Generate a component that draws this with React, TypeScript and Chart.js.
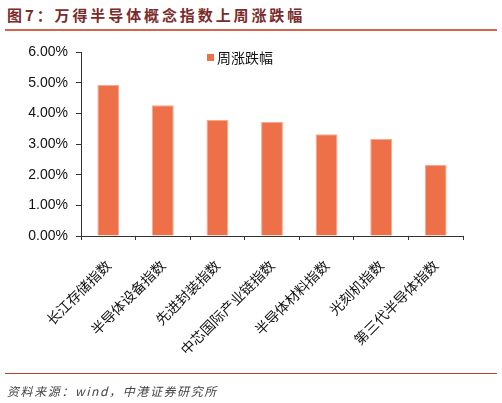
import React, { useEffect, useRef } from "react";
import { Chart, registerables } from "chart.js";

Chart.register(...registerables);

const categories = ["长江存储指数", "半导体设备指数", "先进封装指数", "中芯国际产业链指数", "半导体材料指数", "光刻机指数", "第三代半导体指数"];
const weeklyChange = [4.92, 4.26, 3.78, 3.72, 3.32, 3.16, 2.32];
const seriesName = "周涨跌幅";
const yTicks = [0, 1, 2, 3, 4, 5, 6];
const titleText = "图7：万得半导体概念指数上周涨跌幅";
const sourceText = "资料来源：wind，中港证券研究所";

const BAR = "#ED7049";

export default function App() {
  const ref = useRef<HTMLCanvasElement | null>(null);
  useEffect(() => {
    if (!ref.current) return;
    const chart = new Chart(ref.current, {
      type: "bar",
      data: {
        labels: categories,
        datasets: [
          {
            label: seriesName,
            data: weeklyChange,
            backgroundColor: BAR,
            borderColor: "#F6A98F",
            borderWidth: 1,
            barPercentage: 0.4,
            categoryPercentage: 1,
          },
        ],
      },
      options: {
        animation: false,
        responsive: false,
        maintainAspectRatio: false,
        layout: { padding: { left: 21, right: 39, top: 52, bottom: 0 } },
        plugins: { legend: { display: false }, tooltip: { enabled: false } },
        scales: {
          x: {
            grid: {
              display: true,
              offset: true,
              drawOnChartArea: false,
              drawTicks: true,
              tickLength: 4,
              color: "#333",
            },
            border: { display: true, color: "#333", width: 1 },
            ticks: {
              minRotation: 45,
              maxRotation: 45,
              autoSkip: false,
              padding: 17,
              color: "#111",
              font: { family: "'Noto Sans CJK SC', sans-serif", size: 14 },
            },
            afterFit: (s: any) => {
              s.height = 167;
            },
          },
          y: {
            min: 0,
            max: 6,
            afterBuildTicks: (s: any) => {
              s.ticks = yTicks.map((v) => ({ value: v }));
            },
            grid: {
              display: true,
              drawOnChartArea: false,
              drawTicks: true,
              tickLength: 5,
              color: "#333",
            },
            border: { display: true, color: "#333", width: 1 },
            ticks: {
              padding: 8,
              color: "#111",
              font: { family: "'Liberation Sans', Arial, sans-serif", size: 14 },
              callback: (v: any) => Number(v).toFixed(2) + "%",
            },
            afterFit: (s: any) => {
              s.width = 60;
            },
          },
        },
      },
    });
    return () => chart.destroy();
  }, []);

  return (
    <div style={{ position: "fixed", left: 0, top: 0, width: 502, height: 403, background: "#fff", overflow: "hidden" }}>
      <div
        style={{
          position: "absolute",
          left: 7,
          top: 4,
          fontFamily: "'Noto Sans CJK SC', sans-serif",
          fontWeight: 700,
          fontSize: 15,
          letterSpacing: 2.9,
          color: "#7A2B2B",
          lineHeight: "22px",
          whiteSpace: "nowrap",
        }}
      >
        {titleText}
      </div>
      <div style={{ position: "absolute", left: 5, top: 29, width: 492, height: 2, background: "#D0664C" }} />
      <canvas ref={ref} width={502} height={403} style={{ position: "absolute", left: 0, top: 0, width: 502, height: 403 }} />
      <div
        style={{
          position: "absolute",
          left: 207,
          top: 54,
          width: 7,
          height: 7,
          background: BAR,
        }}
      />
      <div
        style={{
          position: "absolute",
          left: 217,
          top: 47,
          fontFamily: "'Noto Sans CJK SC', sans-serif",
          fontSize: 14,
          lineHeight: "20px",
          color: "#111",
          whiteSpace: "nowrap",
        }}
      >
        {seriesName}
      </div>
      <div style={{ position: "absolute", left: 5, top: 373, width: 492, height: 1, background: "#B8432E" }} />
      <div
        style={{
          position: "absolute",
          left: 7,
          top: 381,
          fontFamily: "'Noto Sans CJK SC', sans-serif",
          fontStyle: "italic",
          fontSize: 12,
          letterSpacing: 1.6,
          color: "#444",
          lineHeight: "20px",
          whiteSpace: "nowrap",
        }}
      >
        {sourceText}
      </div>
    </div>
  );
}
